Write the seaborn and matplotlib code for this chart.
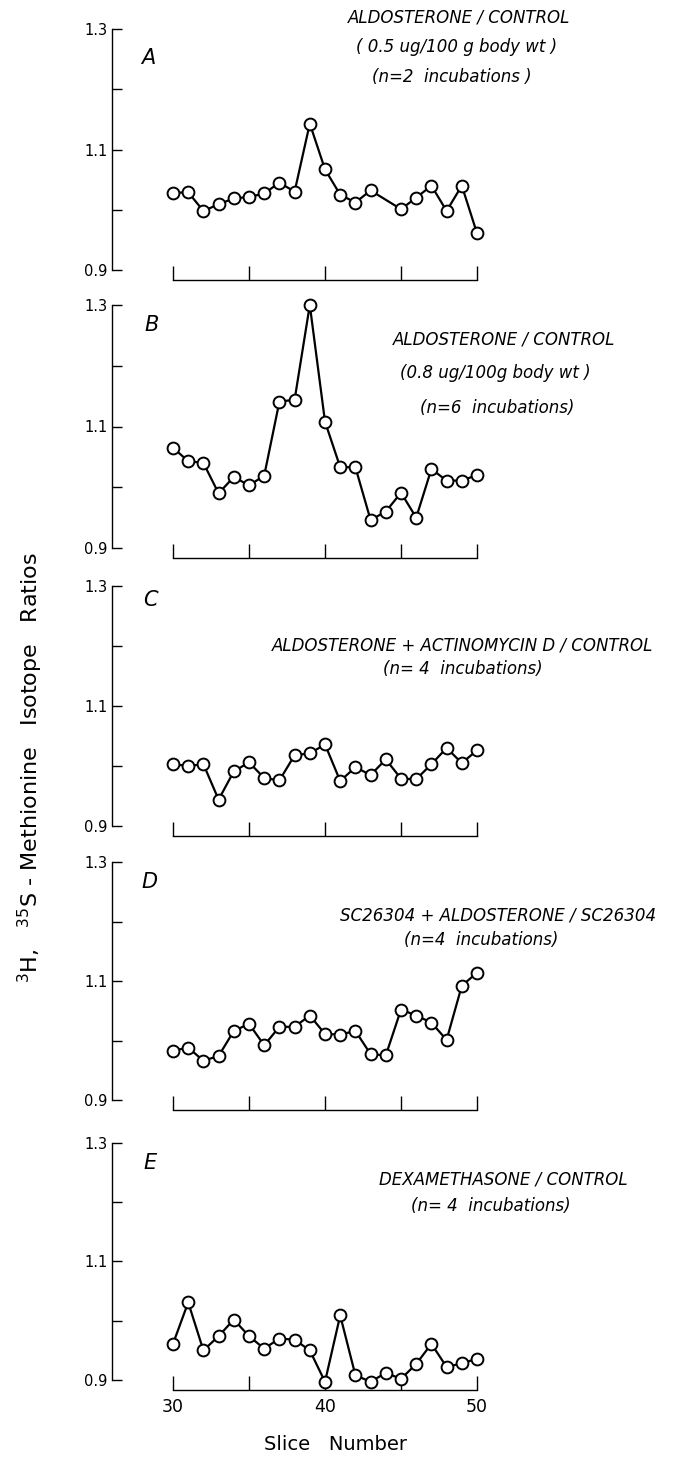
import matplotlib
matplotlib.use("Agg")
import matplotlib.pyplot as plt
import pandas as pd
import seaborn as sns

# Slice numbers along the gel (slice 44 was lost in panel A)
slices = list(range(30, 51))
slices_a = [s for s in slices if s != 44]

ratio_a = [1.028, 1.029, 0.998, 1.009, 1.019, 1.021, 1.027, 1.045, 1.030, 1.143,
           1.067, 1.025, 1.012, 1.032, 1.001, 1.020, 1.040, 0.998, 1.040, 0.961]
ratio_b = [1.065, 1.043, 1.040, 0.990, 1.017, 1.003, 1.019, 1.141, 1.144, 1.300,
           1.108, 1.033, 1.033, 0.946, 0.960, 0.991, 0.950, 1.030, 1.011, 1.011, 1.020]
ratio_c = [1.003, 1.000, 1.003, 0.944, 0.991, 1.006, 0.980, 0.976, 1.018, 1.021,
           1.036, 0.975, 0.998, 0.985, 1.011, 0.979, 0.978, 1.003, 1.030, 1.005, 1.026]
ratio_d = [0.983, 0.988, 0.966, 0.974, 1.016, 1.028, 0.992, 1.023, 1.023, 1.042,
           1.011, 1.010, 1.016, 0.977, 0.975, 1.052, 1.042, 1.030, 1.001, 1.092, 1.114]
ratio_e = [0.961, 1.031, 0.950, 0.974, 1.002, 0.974, 0.953, 0.970, 0.968, 0.950,
           0.897, 1.009, 0.908, 0.897, 0.912, 0.902, 0.927, 0.961, 0.922, 0.928, 0.936]

panel_letters = ["A", "B", "C", "D", "E"]
panel_titles = [
    ["ALDOSTERONE / CONTROL", "( 0.5 ug/100 g body wt )", "(n=2  incubations )"],
    ["ALDOSTERONE / CONTROL", "(0.8 ug/100g body wt )", "(n=6  incubations)"],
    ["ALDOSTERONE + ACTINOMYCIN D / CONTROL", "(n= 4  incubations)"],
    ["SC26304 + ALDOSTERONE / SC26304", "(n=4  incubations)"],
    ["DEXAMETHASONE / CONTROL", "(n= 4  incubations)"],
]
series = [(slices_a, ratio_a), (slices, ratio_b), (slices, ratio_c),
          (slices, ratio_d), (slices, ratio_e)]

y_ticks = [0.9, 1.0, 1.1, 1.2, 1.3]
y_ticklabels = ["0.9", "", "1.1", "", "1.3"]
x_ticks = [30, 35, 40, 45, 50]
x_ticklabels = ["30", "", "40", "", "50"]

sns.set_style("ticks")
plt.rcParams["font.family"] = ["DejaVu Sans"]
for key in ("text.color", "axes.labelcolor", "xtick.color", "ytick.color",
            "axes.edgecolor"):
    plt.rcParams[key] = "black"

W, H = 679, 1462
fig = plt.figure(figsize=(W / 100, H / 100), dpi=100)

# layout in pixels: rows of the 1.3 and 0.9 ticks per panel
rows = [(29, 270), (305, 548), (586, 826), (862, 1100), (1143, 1380)]
spine_x = 112
x30_px, x50_px = 173, 477
# title line positions (centre x, centre y) per panel
title_pos = [
    [(459, 17), (457, 47), (452, 77)],
    [(504, 340), (495, 373), (497, 408)],
    [(463, 645), (463, 669)],
    [(498, 915), (481, 940)],
    [(503, 1180), (491, 1206)],
]
letter_pos = [(148, 58), (152, 325), (150, 600), (150, 882), (150, 1163)]

px_per_slice = (x50_px - x30_px) / 20.0

for i, ((xs, ys), (y13, y09)) in enumerate(zip(series, rows)):
    ppu = (y09 - y13) / 0.4
    bot_px = y09 + 10
    top_px = y13 - 8
    ax = fig.add_axes([spine_x / W, 1 - bot_px / H, (W - spine_x) / W,
                       (bot_px - top_px) / H])
    df = pd.DataFrame({"slice": xs, "ratio": ys})
    sns.lineplot(data=df, x="slice", y="ratio", ax=ax, color="black", lw=1.6,
                 marker="o", markersize=8.5, markerfacecolor="white",
                 markeredgecolor="black", markeredgewidth=1.4, clip_on=False,
                 zorder=3)
    ax.set_xlim(30 - (x30_px - spine_x) / px_per_slice,
                50 + (W - x50_px) / px_per_slice)
    ax.set_ylim(0.9 - 10 / ppu, 1.3 + 8 / ppu)
    for side in ("top", "right"):
        ax.spines[side].set_visible(False)
    ax.spines["left"].set_bounds(0.9, 1.3)
    ax.spines["bottom"].set_bounds(30, 50)
    for side in ("left", "bottom"):
        ax.spines[side].set_linewidth(1.0)
    ax.set_yticks(y_ticks)
    ax.set_yticklabels(y_ticklabels)
    ax.set_xticks(x_ticks)
    if i == len(series) - 1:
        ax.set_xticklabels(x_ticklabels)
    else:
        ax.set_xticklabels([""] * len(x_ticks))
    ax.tick_params(axis="y", direction="in", length=7, width=1.0,
                   labelsize=10.5, pad=3)
    ax.tick_params(axis="x", direction="in", length=10, width=1.0,
                   labelsize=12.5, pad=6)
    ax.set_xlabel("")
    ax.set_ylabel("")
    ax.patch.set_alpha(0)

    fig.text(letter_pos[i][0] / W, 1 - letter_pos[i][1] / H, panel_letters[i],
             fontsize=15, style="italic", ha="center", va="center")
    for line, (cx, cy) in zip(panel_titles[i], title_pos[i]):
        fig.text(cx / W, 1 - cy / H, line, fontsize=12, style="italic",
                 ha="center", va="center")

fig.text(30 / W, 1 - 768 / H,
         r"$^{3}$H,   $^{35}$S - Methionine   Isotope   Ratios",
         rotation=90, fontsize=16, ha="center", va="center")
fig.text(335 / W, 1 - 1444 / H, "Slice   Number", fontsize=14,
         ha="center", va="center")

fig.savefig("out.png", dpi=100)
